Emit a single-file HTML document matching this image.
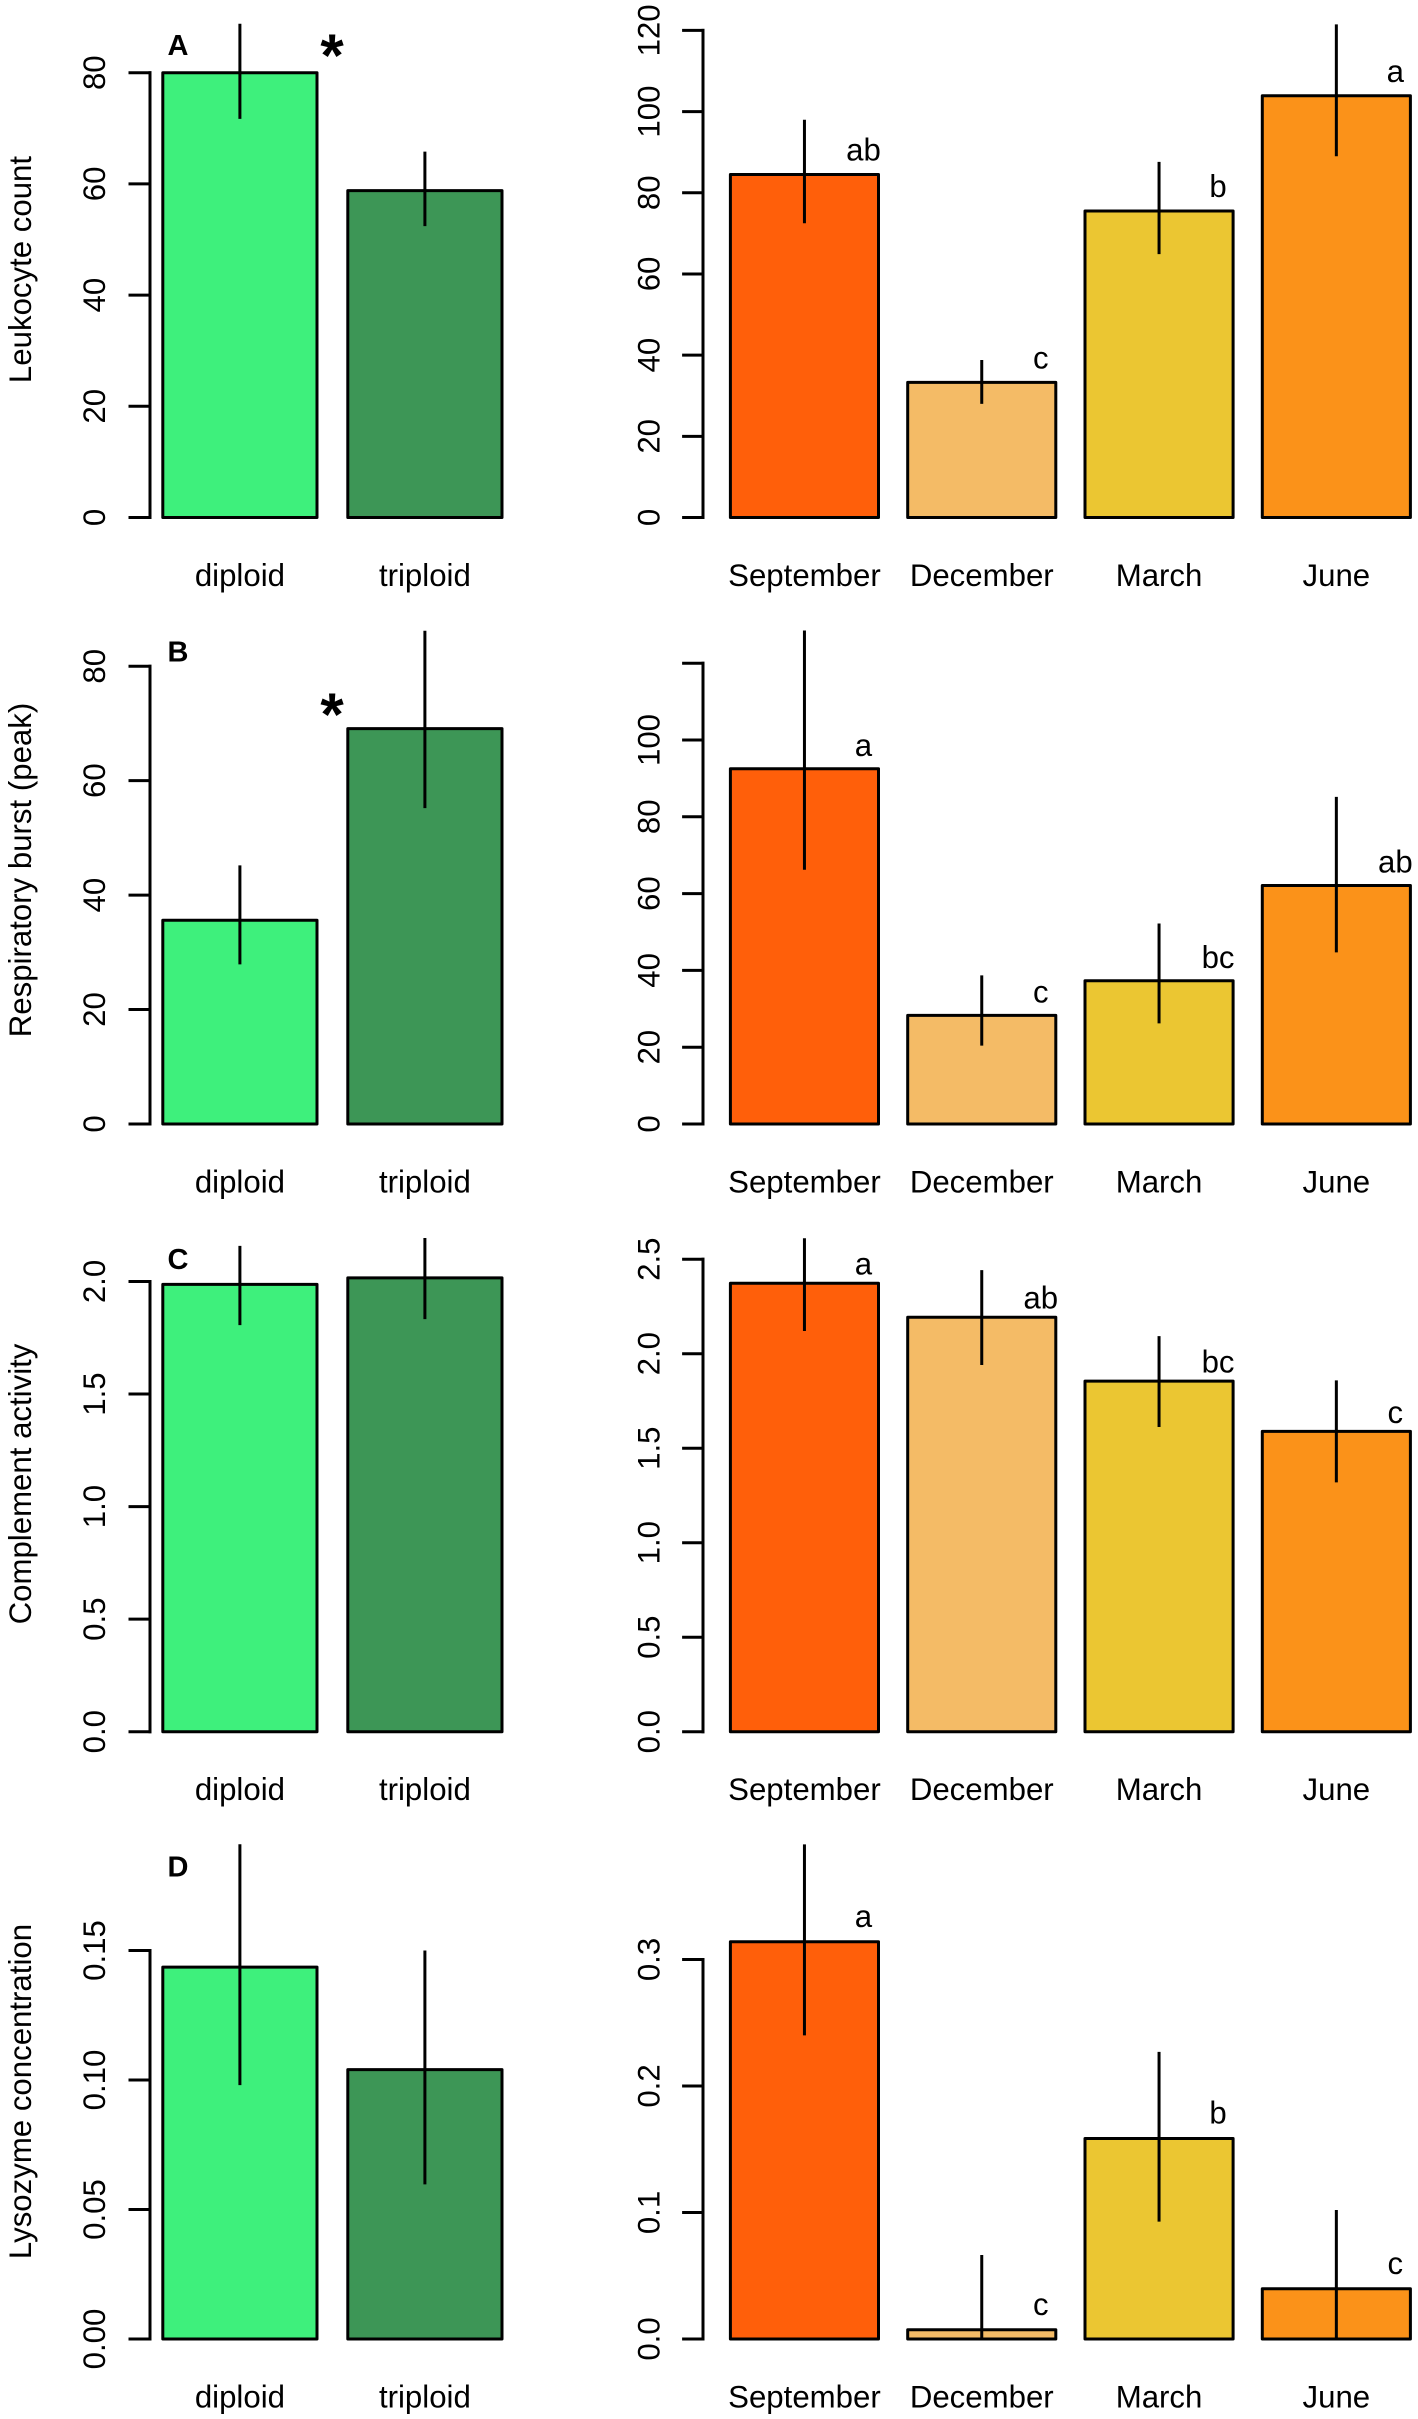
<!DOCTYPE html>
<html lang="en">
<head>
<meta charset="utf-8">
<title>Leukocyte, respiratory burst, complement and lysozyme bar charts</title>
<style>
  html, body { margin: 0; padding: 0; background: #fff; width: 1418px; height: 2419px; overflow: hidden; }
  svg { display: block; }
  text { font-family: "Liberation Sans", Arial, sans-serif; fill: #000; }
</style>
</head>
<body>
<svg id="figure" xmlns="http://www.w3.org/2000/svg" width="1418" height="2419" viewBox="0 0 1418 2419">
  <rect x="0" y="0" width="1418" height="2419" fill="#ffffff"></rect>
</svg>
<script>
// ---- categories ----
const ploidyCategories = ['diploid', 'triploid'];
const seasonCategories = ['September', 'December', 'March', 'June'];

// ---- A: leukocyte count ----
const leukocytePloidyMeans = [80, 58.8];
const leukocytePloidyUpper = [88.8, 65.8];
const leukocytePloidyLower = [71.7, 52.4];
const leukocytePloidyTicks = [0, 20, 40, 60, 80];
const leukocytePloidyTickLabels = ['0', '20', '40', '60', '80'];
const leukocyteSeasonMeans = [84.5, 33.3, 75.5, 103.9];
const leukocyteSeasonUpper = [98, 38.8, 87.6, 121.5];
const leukocyteSeasonLower = [72.5, 28, 64.9, 89];
const leukocyteSeasonTicks = [0, 20, 40, 60, 80, 100, 120];
const leukocyteSeasonTickLabels = ['0', '20', '40', '60', '80', '100', '120'];
const leukocyteSeasonLetters = ['ab', 'c', 'b', 'a'];

// ---- B: respiratory burst ----
const burstPloidyMeans = [35.6, 69.1];
const burstPloidyUpper = [45.2, 86.2];
const burstPloidyLower = [27.9, 55.2];
const burstPloidyTicks = [0, 20, 40, 60, 80];
const burstPloidyTickLabels = ['0', '20', '40', '60', '80'];
const burstSeasonMeans = [92.5, 28.3, 37.3, 62.1];
const burstSeasonUpper = [128.5, 38.7, 52.2, 85.2];
const burstSeasonLower = [66.2, 20.4, 26.2, 44.7];
const burstSeasonTicks = [0, 20, 40, 60, 80, 100, 120];
const burstSeasonTickLabels = ['0', '20', '40', '60', '80', '100', ''];
const burstSeasonLetters = ['a', 'c', 'bc', 'ab'];

// ---- C: complement activity ----
const complementPloidyMeans = [1.987, 2.016];
const complementPloidyUpper = [2.158, 2.193];
const complementPloidyLower = [1.806, 1.833];
const complementPloidyTicks = [0, 0.5, 1, 1.5, 2];
const complementPloidyTickLabels = ['0.0', '0.5', '1.0', '1.5', '2.0'];
const complementSeasonMeans = [2.373, 2.193, 1.855, 1.589];
const complementSeasonUpper = [2.611, 2.442, 2.093, 1.859];
const complementSeasonLower = [2.12, 1.94, 1.612, 1.319];
const complementSeasonTicks = [0, 0.5, 1, 1.5, 2, 2.5];
const complementSeasonTickLabels = ['0.0', '0.5', '1.0', '1.5', '2.0', '2.5'];
const complementSeasonLetters = ['a', 'ab', 'bc', 'c'];

// ---- D: lysozyme concentration ----
const lysozymePloidyMeans = [0.1436, 0.104];
const lysozymePloidyUpper = [0.191, 0.15];
const lysozymePloidyLower = [0.098, 0.0597];
const lysozymePloidyTicks = [0, 0.05, 0.1, 0.15];
const lysozymePloidyTickLabels = ['0.00', '0.05', '0.10', '0.15'];
const lysozymeSeasonMeans = [0.314, 0.0073, 0.1585, 0.0397];
const lysozymeSeasonUpper = [0.391, 0.0664, 0.227, 0.102];
const lysozymeSeasonLower = [0.24, 0, 0.0928, 0];
const lysozymeSeasonTicks = [0, 0.1, 0.2, 0.3];
const lysozymeSeasonTickLabels = ['0.0', '0.1', '0.2', '0.3'];
const lysozymeSeasonLetters = ['a', 'c', 'b', 'c'];

// ---- layout and styling (not data) ----
const SVG_NS = 'http://www.w3.org/2000/svg';
const figure = document.getElementById('figure');
const FONT = 31.2;
const LW = 3;
const ploidyFills = ['#3ef07c', '#3d9656'];
const seasonFills = ['#ff5f0a', '#f4bb66', '#ebc632', '#fb9219'];
const leftFrame = { axisX: 150, tickX: 130, labelX: 105, barStart: 162.8, barWidth: 154.2, barStep: 185 };
const rightFrame = { axisX: 703, tickX: 683.6, labelX: 659.7, barStart: 730.4, barWidth: 148.1, barStep: 177.3 };

const rows = [
  { id: 'leukocyte', base: 517.5, title: 'Leukocyte count', titleY: 269.5, letter: 'A', star: 46.7,
    ploidy: { scale: 5.56, means: leukocytePloidyMeans, upper: leukocytePloidyUpper, lower: leukocytePloidyLower, ticks: leukocytePloidyTicks, tickLabels: leukocytePloidyTickLabels },
    season: { scale: 4.059, means: leukocyteSeasonMeans, upper: leukocyteSeasonUpper, lower: leukocyteSeasonLower, ticks: leukocyteSeasonTicks, tickLabels: leukocyteSeasonTickLabels, letters: leukocyteSeasonLetters, gap: 14 } },
  { id: 'respiratory-burst', base: 1124, title: 'Respiratory burst (peak)', titleY: 870, letter: 'B', star: 705.5,
    ploidy: { scale: 5.722, means: burstPloidyMeans, upper: burstPloidyUpper, lower: burstPloidyLower, ticks: burstPloidyTicks, tickLabels: burstPloidyTickLabels },
    season: { scale: 3.84, means: burstSeasonMeans, upper: burstSeasonUpper, lower: burstSeasonLower, ticks: burstSeasonTicks, tickLabels: burstSeasonTickLabels, letters: burstSeasonLetters, gap: 13 } },
  { id: 'complement', base: 1731.7, title: 'Complement activity', titleY: 1484, letter: 'C', star: null,
    ploidy: { scale: 225.1, means: complementPloidyMeans, upper: complementPloidyUpper, lower: complementPloidyLower, ticks: complementPloidyTicks, tickLabels: complementPloidyTickLabels },
    season: { scale: 189, means: complementSeasonMeans, upper: complementSeasonUpper, lower: complementSeasonLower, ticks: complementSeasonTicks, tickLabels: complementSeasonTickLabels, letters: complementSeasonLetters, gap: 8.5 } },
  { id: 'lysozyme', base: 2339, title: 'Lysozyme concentration', titleY: 2091.5, letter: 'D', star: null,
    ploidy: { scale: 2590, means: lysozymePloidyMeans, upper: lysozymePloidyUpper, lower: lysozymePloidyLower, ticks: lysozymePloidyTicks, tickLabels: lysozymePloidyTickLabels },
    season: { scale: 1265, means: lysozymeSeasonMeans, upper: lysozymeSeasonUpper, lower: lysozymeSeasonLower, ticks: lysozymeSeasonTicks, tickLabels: lysozymeSeasonTickLabels, letters: lysozymeSeasonLetters, gap: 15 } }
];

function svgEl(tag, parent) {
  const el = document.createElementNS(SVG_NS, tag);
  parent.appendChild(el);
  return el;
}
function setLine(el, x1, y1, x2, y2) {
  el.setAttribute('x1', x1);
  el.setAttribute('y1', y1);
  el.setAttribute('x2', x2);
  el.setAttribute('y2', y2);
  el.setAttribute('stroke', '#000');
  el.setAttribute('stroke-width', LW);
  el.setAttribute('stroke-linecap', 'square');
}
function setText(el, str, x, y, size, rotated) {
  el.textContent = str;
  el.setAttribute('font-size', size);
  el.setAttribute('text-anchor', 'middle');
  if (rotated) {
    el.setAttribute('transform', 'translate(' + x + ' ' + y + ') rotate(-90)');
  } else {
    el.setAttribute('x', x);
    el.setAttribute('y', y);
  }
}

function drawPanel(row, series, frame, categories, fills, prefix) {
  const yScale = function (v) { return row.base - v * series.scale; };
  const xLeft = function (i) { return frame.barStart + i * frame.barStep; };
  const xCenter = function (i) { return xLeft(i) + frame.barWidth / 2; };

  const group = svgEl('g', figure);
  
  

  // y axis
  const axisLine = svgEl('line', group);
  setLine(axisLine, frame.axisX, yScale(series.ticks[0]), frame.axisX, yScale(series.ticks[series.ticks.length - 1]));
  
  

  series.ticks.forEach(function (t, i) {
    const tick = svgEl('line', group);
    setLine(tick, frame.tickX, yScale(t), frame.axisX, yScale(t));
    
    
    if (series.tickLabels[i] !== '') {
      const label = svgEl('text', group);
      setText(label, series.tickLabels[i], frame.labelX, yScale(t), FONT, true);
      
      
    }
  });

  // bars, whiskers and category labels
  categories.forEach(function (cat, i) {
    const top = yScale(series.means[i]);
    const bar = svgEl('rect', group);
    bar.setAttribute('x', xLeft(i));
    bar.setAttribute('y', top);
    bar.setAttribute('width', frame.barWidth);
    bar.setAttribute('height', row.base - top);
    bar.setAttribute('fill', fills[i]);
    bar.setAttribute('stroke', '#000');
    bar.setAttribute('stroke-width', LW);
    bar.setAttribute('stroke-linejoin', 'round');
    
    

    const whisker = svgEl('line', group);
    setLine(whisker, xCenter(i), yScale(series.upper[i]), xCenter(i), yScale(series.lower[i]));
    whisker.setAttribute('stroke-linecap', 'butt');
    
    

    const catLabel = svgEl('text', group);
    setText(catLabel, cat, xCenter(i), row.base + 68.5, FONT, false);
    
    

    if (series.letters) {
      const sig = svgEl('text', group);
      setText(sig, series.letters[i], xCenter(i) + 59, top - series.gap, FONT, false);
      
      
    }
  });
}

rows.forEach(function (row) {
  drawPanel(row, row.ploidy, leftFrame, ploidyCategories, ploidyFills, 'ploidy');
  drawPanel(row, row.season, rightFrame, seasonCategories, seasonFills, 'season');

  const yTitle = svgEl('text', figure);
  setText(yTitle, row.title, 30.8, row.titleY, FONT, true);
  
  

  const panelLetter = svgEl('text', figure);
  setText(panelLetter, row.letter, 178, row.base - 462.5, 29, false);
  panelLetter.setAttribute('font-weight', 'bold');
  
  

  if (row.star !== null) {
    const star = svgEl('text', figure);
    setText(star, '*', 332, row.star + 29.5, 60, false);
    star.setAttribute('font-weight', 'bold');
    
    
  }
});
</script>
</body>
</html>
